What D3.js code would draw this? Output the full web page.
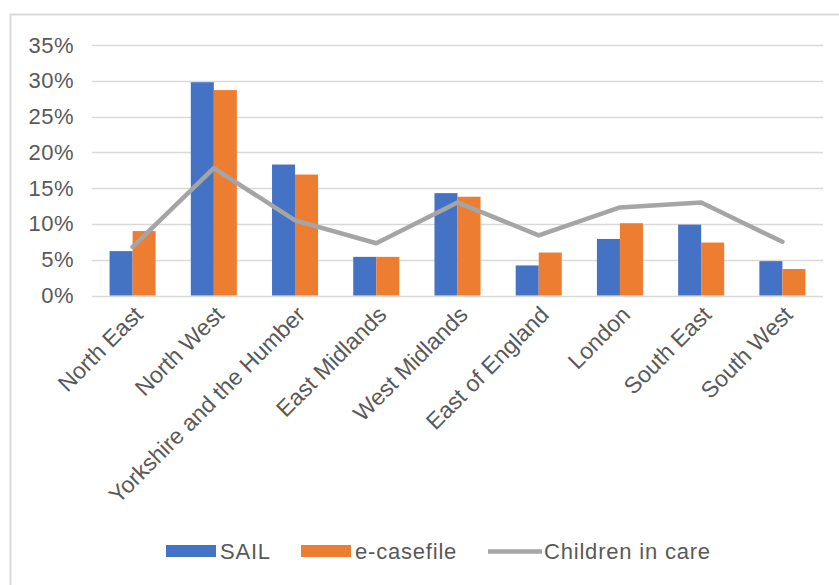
<!DOCTYPE html>
<html>
<head>
<meta charset="utf-8">
<script src="https://cdn.jsdelivr.net/npm/d3@7"></script>
<style>
  html, body { margin: 0; padding: 0; background: #fff; }
  svg { display: block; }
  text { font-family: "Liberation Sans", Arial, Helvetica, sans-serif; fill: #595959; }
</style>
</head>
<body>
<svg id="chart" width="839" height="585"></svg>
<script>
const categories = ["North East", "North West", "Yorkshire and the Humber", "East Midlands",
  "West Midlands", "East of England", "London", "South East", "South West"];
const sail = [6.2, 29.8, 18.3, 5.4, 14.3, 4.2, 7.9, 9.9, 4.8];
const ecasefile = [9.0, 28.7, 16.9, 5.4, 13.8, 6.0, 10.1, 7.4, 3.7];
const childrenInCare = [6.8, 17.8, 10.5, 7.3, 13.0, 8.4, 12.3, 13.0, 7.5];
const yTicks = [0, 5, 10, 15, 20, 25, 30, 35];
const seriesNames = ["SAIL", "e-casefile", "Children in care"];
const colors = { "SAIL": "#4472c4", "e-casefile": "#ed7d31", "Children in care": "#a5a5a5" };

const svg = d3.select("#chart");

// chart area border
svg.append("rect")
  .attr("x", 10.5).attr("y", 14.5).attr("width", 900).attr("height", 700)
  .attr("fill", "none").attr("stroke", "#d9d9d9").attr("stroke-width", 2);

const plotLeft = 92, plotRight = 823, plotTop = 45, plotBottom = 295.5;

const x = d3.scaleBand().domain(categories).range([plotLeft, plotRight])
  .paddingInner(0.433).paddingOuter(0.2165);
const xs = d3.scaleBand().domain(["SAIL", "e-casefile"]).range([0, x.bandwidth()]);
const y = d3.scaleLinear().domain([0, 35]).range([plotBottom, plotTop]);

// gridlines
svg.append("g").selectAll("line").data(yTicks).join("line")
  .attr("x1", plotLeft).attr("x2", plotRight)
  .attr("y1", d => Math.round(y(d)) + 0.5).attr("y2", d => Math.round(y(d)) + 0.5)
  .attr("stroke", "#d9d9d9").attr("stroke-width", 1.5);

// y axis labels
const yAxis = d3.axisLeft(y).tickValues(yTicks).tickFormat(d => d + "%").tickSize(0).tickPadding(0);
const gy = svg.append("g").attr("transform", `translate(74,0)`).call(yAxis);
gy.select(".domain").remove();
gy.selectAll("text").attr("font-size", 22).attr("fill", "#595959")
  .attr("letter-spacing", 0.5)
  .style("font-family", '"Liberation Sans", Arial, sans-serif');

// bars
const barData = [];
categories.forEach((c, i) => {
  barData.push({ c, s: "SAIL", v: sail[i] });
  barData.push({ c, s: "e-casefile", v: ecasefile[i] });
});
svg.append("g").selectAll("rect").data(barData).join("rect")
  .attr("x", d => x(d.c) + xs(d.s))
  .attr("width", xs.bandwidth())
  .attr("y", d => y(d.v))
  .attr("height", d => y(0) - y(d.v))
  .attr("fill", d => colors[d.s]);

// line
const line = d3.line()
  .x((d, i) => x(categories[i]) + x.bandwidth() / 2)
  .y(d => y(d));
svg.append("path").datum(childrenInCare)
  .attr("d", line)
  .attr("fill", "none").attr("stroke", colors["Children in care"])
  .attr("stroke-width", 4.5).attr("stroke-linejoin", "round").attr("stroke-linecap", "round");

// x labels
const xAxis = d3.axisBottom(x).tickSize(0).tickPadding(0);
const gx = svg.append("g").attr("transform", `translate(0,${plotBottom})`).call(xAxis);
gx.select(".domain").remove();
gx.selectAll("text")
  .attr("font-size", 23).attr("fill", "#595959")
  .style("font-family", '"Liberation Sans", Arial, sans-serif')
  .attr("text-anchor", "end")
  .attr("y", 0).attr("dy", "0.35em")
  .attr("transform", "translate(6,15) rotate(-45)");

// legend
const legendItems = [
  { name: "SAIL", type: "rect", x: 166 },
  { name: "e-casefile", type: "rect", x: 301 },
  { name: "Children in care", type: "line", x: 488 }
];
const lg = svg.append("g");
legendItems.forEach(it => {
  if (it.type === "rect") {
    lg.append("rect").attr("x", it.x).attr("y", 545).attr("width", 50).attr("height", 12)
      .attr("fill", colors[it.name]);
  } else {
    lg.append("line").attr("x1", it.x).attr("x2", it.x + 54).attr("y1", 551.5).attr("y2", 551.5)
      .attr("stroke", colors[it.name]).attr("stroke-width", 4.5);
  }
  lg.append("text").attr("x", it.x + (it.type === "rect" ? 54 : 56)).attr("y", 551)
    .attr("dy", "0.35em").attr("font-size", 22).attr("letter-spacing", 0.8).text(it.name);
});
</script>
</body>
</html>
